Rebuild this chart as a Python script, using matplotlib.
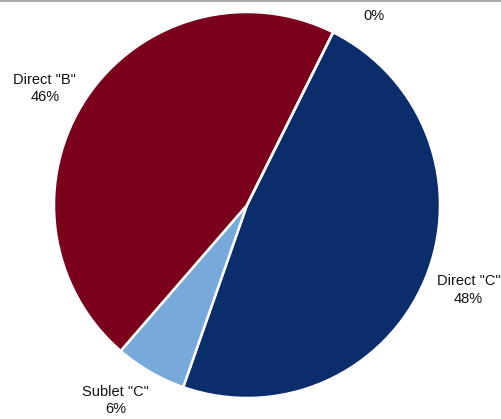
import numpy as np
import matplotlib.pyplot as plt
from matplotlib.lines import Line2D

# Occupancy mix by lease type
categories = ['Direct "C"', 'Sublet "C"', 'Direct "B"', '']
shares = [48, 6, 46, 0]
colors = ["#0B2D6B", "#77AADB", "#7B001C", "#7F7F7F"]

# label placement: angle (deg) and distance (radius units) per slice
label_angles = [-21, -124, 150, 56]
label_dists = [1.23, 1.22, 1.21, 1.18]

plt.rcParams["font.family"] = ["Liberation Sans", "DejaVu Sans"]

W, H = 501, 419
fig = plt.figure(figsize=(W / 100, H / 100), dpi=100)

# pie centre and radius in pixels
cx, cy, r = 247, 205, 193
ax = fig.add_axes([(cx - r) / W, (H - cy - r) / H, 2 * r / W, 2 * r / H])

labels = [f"{c}\n{s}%" if c else f"{s}%" for c, s in zip(categories, shares)]

wedges, texts = ax.pie(
    shares,
    colors=colors,
    labels=labels,
    startangle=63.5,
    counterclock=False,
    labeldistance=1.2,
    wedgeprops=dict(edgecolor="white", linewidth=1.8),
    textprops=dict(fontsize=10.5, color="#111111"),
)

for t, a, d in zip(texts, label_angles, label_dists):
    rad = np.deg2rad(a)
    t.set_position((d * np.cos(rad), d * np.sin(rad)))
    t.set_horizontalalignment("center")
    t.set_verticalalignment("center")
    t.set_linespacing(1.3)

ax.set_xlim(-1, 1)
ax.set_ylim(-1, 1)
ax.set_aspect("equal")
ax.axis("off")

fig.add_artist(Line2D([0, 1], [1 - 0.6 / H, 1 - 0.6 / H], color="#9a9a9a",
                      linewidth=1.2, transform=fig.transFigure))

fig.savefig("out.png", dpi=100, facecolor="white")
